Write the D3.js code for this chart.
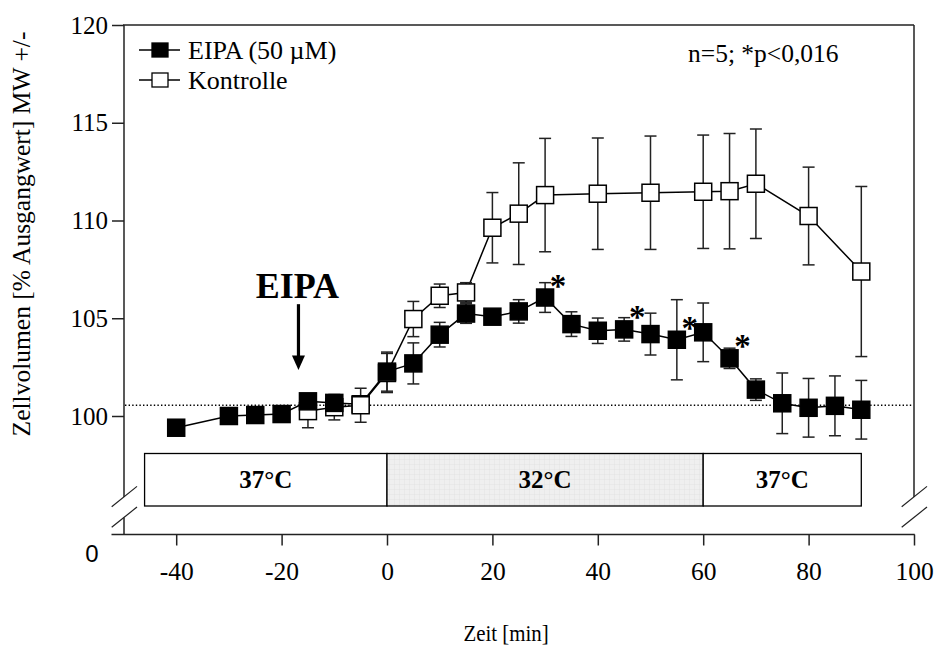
<!DOCTYPE html>
<html><head><meta charset="utf-8">
<script src="https://cdn.jsdelivr.net/npm/d3@7"></script>
<style>body{margin:0;background:#fff}svg{display:block}</style>
</head><body><svg id="c" width="934" height="655"></svg>
<script>
// ---------- data ----------
const timeEIPA = [-40,-30,-25,-20,-15,-10,-5,0,5,10,15,20,25,30,35,40,45,50,55,60,65,70,75,80,85,90];
const eipaMean = [99.4,100.0,100.05,100.1,100.75,100.67,100.6,102.27,102.69,104.16,105.24,105.08,105.35,106.06,104.7,104.36,104.43,104.19,103.9,104.28,102.95,101.35,100.65,100.42,100.52,100.32];
const eipaErr  = [0.3,0.3,0.3,0.3,0.3,0.3,0.3,1.0,1.05,0.63,0.5,0.35,0.6,0.76,0.63,0.65,0.6,1.07,2.05,1.5,0.52,0.55,1.55,1.5,1.53,1.5];
const timeKon  = [-15,-10,-5,0,5,10,15,20,25,30,40,50,60,65,70,80,90];
const konMean  = [100.25,100.45,100.55,102.2,104.96,106.15,106.32,109.63,110.35,111.3,111.37,111.42,111.47,111.5,111.88,110.23,107.39];
const konErr   = [0.85,0.65,0.87,1.0,0.9,0.6,0.5,1.8,2.6,2.9,2.85,2.9,2.9,2.95,2.8,2.5,4.35];
const konFront = [-5];
const xTicks = [-40,-20,0,20,40,60,80,100];
const yTicks = [100,105,110,115,120];
const tempLabels = ["37°C","32°C","37°C"];
const tempBounds = [-46,0,60,90];
const sigTimes = [30,45,55,65];
const baselineValue = 100.55;
const legendLabels = ["EIPA (50 µM)","Kontrolle"];
const noteText = "n=5; *p<0,016";
const yTitle = "Zellvolumen [% Ausgangwert] MW +/-";
const xTitle = "Zeit [min]";

// ---------- setup ----------
const svg = d3.select("#c");
const serif = "'Liberation Serif','Times New Roman',Times,serif";
const sans = "'Liberation Sans',Arial,sans-serif";
const x = d3.scaleLinear().domain([-50,100]).range([123.5,914]);
const y = d3.scaleLinear().domain([100,120]).range([416,25]);
const axisColor = "#222";
const axisY0 = 534.5;
const boxTop = 453.5, boxH = 52.5;
const fmt = d => String(d);

const defs = svg.append("defs");
const pat = defs.append("pattern").attr("id","grid").attr("width",5).attr("height",5).attr("patternUnits","userSpaceOnUse");
pat.append("rect").attr("width",5).attr("height",5).attr("fill","#efefef");
pat.append("path").attr("d","M5 0V5M0 5H5").attr("stroke","#dedede").attr("stroke-width",0.7);

// ---------- frame / axes ----------
const xL = x.range()[0], xR = x.range()[1];
const yTop = y(120);
const fr = svg.append("g").attr("stroke",axisColor).attr("stroke-width",1.5).attr("fill","none");
fr.append("line").attr("x1",xL-0.5).attr("x2",xR).attr("y1",yTop).attr("y2",yTop);
fr.append("line").attr("x1",124).attr("x2",124).attr("y1",yTop).attr("y2",497);
fr.append("line").attr("x1",124).attr("x2",124).attr("y1",517.5).attr("y2",axisY0);
fr.append("line").attr("x1",xR).attr("x2",xR).attr("y1",yTop).attr("y2",497);
fr.append("line").attr("x1",111.5).attr("x2",xR+0.75).attr("y1",axisY0).attr("y2",axisY0);
[[111.7,137],[901.7,927]].forEach(([a,b])=>{
  fr.append("line").attr("x1",a).attr("y1",506.7).attr("x2",b).attr("y2",486.4).attr("stroke-width",1.2);
  fr.append("line").attr("x1",a).attr("y1",527.3).attr("x2",b).attr("y2",507).attr("stroke-width",1.2);
});

const gy = svg.append("g").attr("transform","translate(124,0)")
  .call(d3.axisLeft(y).tickValues(yTicks).tickSize(12).tickPadding(4).tickFormat(fmt));
gy.select(".domain").remove();
gy.selectAll(".tick line").attr("stroke",axisColor).attr("stroke-width",1.5);
gy.selectAll(".tick text").attr("font-family",serif).attr("font-size",25).attr("fill","#000");

const gx = svg.append("g").attr("transform",`translate(0,${axisY0})`)
  .call(d3.axisBottom(x).tickValues(xTicks).tickSize(11).tickPadding(16).tickFormat(fmt));
gx.select(".domain").remove();
gx.selectAll(".tick line").attr("stroke",axisColor).attr("stroke-width",1.5);
gx.selectAll(".tick text").attr("font-family",serif).attr("font-size",25.5).attr("fill","#000");

svg.append("text").attr("x",98.5).attr("y",562).attr("text-anchor","end")
  .attr("font-family",sans).attr("font-size",24).text("0");

// titles
svg.append("text").attr("transform","translate(30,234) rotate(-90)").attr("text-anchor","middle")
  .attr("font-family",serif).attr("font-size",25.5).text(yTitle);
svg.append("text").attr("transform","translate(506,641) scale(0.87,1)").attr("text-anchor","middle")
  .attr("font-family",serif).attr("font-size",24).text(xTitle);

// ---------- temperature box ----------
const tb = svg.append("g");
tempLabels.forEach((lab,i)=>{
  const a = x(tempBounds[i]), b = x(tempBounds[i+1]);
  tb.append("rect").attr("x",a).attr("y",boxTop).attr("width",b-a).attr("height",boxH)
    .attr("fill", i===1 ? "url(#grid)" : "#fff").attr("stroke","#000").attr("stroke-width",1.3);
  tb.append("text").attr("x",(a+b)/2).attr("y",boxTop+boxH/2+8.5).attr("text-anchor","middle")
    .attr("font-family",serif).attr("font-weight","bold").attr("font-size",25).text(lab);
});

// ---------- baseline dotted ----------
svg.append("line").attr("x1",125).attr("x2",xR-1).attr("y1",y(baselineValue)).attr("y2",y(baselineValue))
  .attr("stroke","#000").attr("stroke-width",1.4).attr("stroke-dasharray","1.4,2.2");

// ---------- series ----------
const eipa = timeEIPA.map((t,i)=>({t,v:eipaMean[i],e:eipaErr[i]}));
const kon = timeKon.map((t,i)=>({t,v:konMean[i],e:konErr[i]}));
const line = d3.line().x(d=>x(d.t)).y(d=>y(d.v));
const S = 17, cap = 6;

function errBars(g,data){
  const eb = g.append("g").attr("stroke","#222").attr("stroke-width",1.5);
  data.forEach(d=>{
    eb.append("line").attr("x1",x(d.t)).attr("x2",x(d.t)).attr("y1",y(d.v-d.e)).attr("y2",y(d.v+d.e));
    eb.append("line").attr("x1",x(d.t)-cap).attr("x2",x(d.t)+cap).attr("y1",y(d.v-d.e)).attr("y2",y(d.v-d.e));
    eb.append("line").attr("x1",x(d.t)-cap).attr("x2",x(d.t)+cap).attr("y1",y(d.v+d.e)).attr("y2",y(d.v+d.e));
  });
}
function markers(g,data,fill){
  g.selectAll(null).data(data).join("rect")
    .attr("x",d=>x(d.t)-S/2).attr("y",d=>y(d.v)-S/2).attr("width",S).attr("height",S)
    .attr("fill",fill).attr("stroke","#000").attr("stroke-width",1.5);
}
const gs = svg.append("g");
gs.append("path").datum(kon).attr("d",line).attr("fill","none").attr("stroke","#000").attr("stroke-width",1.5);
gs.append("path").datum(eipa).attr("d",line).attr("fill","none").attr("stroke","#000").attr("stroke-width",1.5);
errBars(gs,kon);
errBars(gs,eipa);
markers(gs,kon.filter(d=>!konFront.includes(d.t)),"#fff");
markers(gs,eipa,"#000");
markers(gs,kon.filter(d=>konFront.includes(d.t)),"#fff");

// significance asterisks
sigTimes.forEach(t=>{
  const d = eipa.find(p=>p.t===t);
  svg.append("text").attr("x",x(t)+13).attr("y",y(d.v)-16+15).attr("text-anchor","middle")
    .attr("font-family",serif).attr("font-weight","bold").attr("font-size",33).text("*");
});

// ---------- EIPA arrow annotation ----------
const arrT = -16.8;
const ax = x(arrT);
svg.append("text").attr("x",ax-1).attr("y",y(106.04)).attr("text-anchor","middle")
  .attr("font-family",serif).attr("font-weight","bold").attr("font-size",36).text("EIPA");
svg.append("line").attr("x1",ax).attr("x2",ax).attr("y1",y(105.72)).attr("y2",y(102.9))
  .attr("stroke","#000").attr("stroke-width",3.2);
svg.append("path").attr("d",`M${ax-6.5},${y(103.1)}L${ax+6.5},${y(103.1)}L${ax},${y(102.35)}Z`).attr("fill","#000");

// ---------- legend / note ----------
const lg = svg.append("g");
legendLabels.forEach((lab,i)=>{
  const cy = 50 + i*30;
  lg.append("line").attr("x1",139).attr("x2",180).attr("y1",cy).attr("y2",cy).attr("stroke","#000").attr("stroke-width",1.5);
  lg.append("rect").attr("x",160-8).attr("y",cy-7).attr("width",16).attr("height",14)
    .attr("fill", i===0 ? "#000" : "#fff").attr("stroke","#000").attr("stroke-width",1.3);
  lg.append("text").attr("x",188).attr("y",cy+8.7).attr("font-family",serif).attr("font-size",26).text(lab);
});
svg.append("text").attr("x",688).attr("y",61.5).attr("font-family",serif).attr("font-size",25.5).text(noteText);
</script></body></html>
